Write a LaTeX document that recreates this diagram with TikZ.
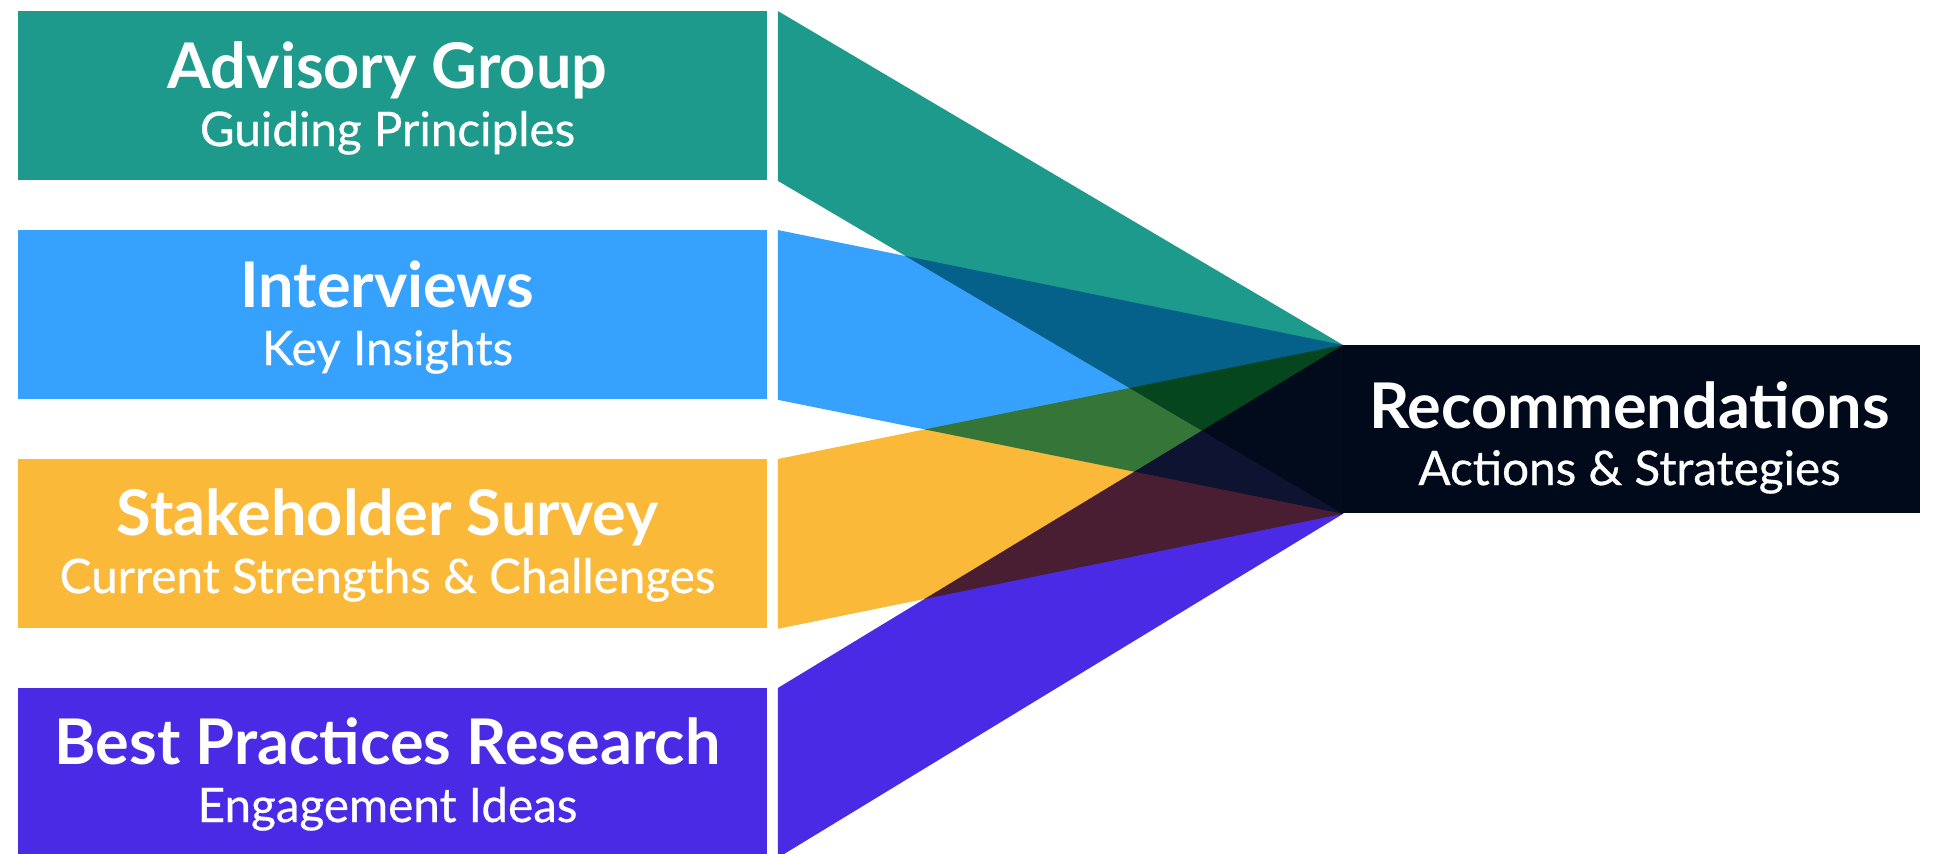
\documentclass[tikz,border=0pt]{standalone}
\usepackage{fontspec}
\setmainfont{Lato}
\newfontfamily\subfont{Lato}[FakeBold=0.6]
\definecolor{advteal}{RGB}{29,154,139}
\definecolor{intblue}{RGB}{54,162,254}
\definecolor{survyellow}{RGB}{251,185,57}
\definecolor{bestpurple}{RGB}{75,42,230}
\definecolor{recnavy}{RGB}{1,10,26}
\begin{document}
\begin{tikzpicture}[x=0.5pt,y=-0.5pt,
  srcbox/.style={fill=#1, inner sep=0pt, minimum width=374.5pt, minimum height=84.5pt, anchor=north west},
  ttl/.style={text=white, inner sep=0pt, anchor=base, font=\bfseries\fontsize{31.5}{36}\selectfont},
  sub/.style={text=white, inner sep=0pt, anchor=base, font=\subfont\fontsize{23.8}{28}\selectfont},
  funnel/.style={fill=#1, blend mode=multiply}]
\useasboundingbox (0,0) rectangle (1936,853);
\clip (0,0) rectangle (1936,853);

% source boxes
\node[srcbox=advteal] (adv) at (18,11) {};
\node[srcbox=intblue] (int) at (18,230) {};
\node[srcbox=survyellow] (surv) at (18,459) {};
\node[srcbox=bestpurple] (best) at (18,688) {};

% target box
\node[fill=recnavy, inner sep=0pt, minimum width=288.5pt, minimum height=84pt, anchor=north west] (rec) at (1343,345) {};

% funnels, multiplied where they cross
\fill[funnel=advteal] ([xshift=5pt]adv.north east) -- (rec.north west) -- (rec.south west) -- ([xshift=5pt]adv.south east) -- cycle;
\fill[funnel=intblue] ([xshift=5pt]int.north east) -- (rec.north west) -- (rec.south west) -- ([xshift=5pt]int.south east) -- cycle;
\fill[funnel=survyellow] ([xshift=5pt]surv.north east) -- (rec.north west) -- (rec.south west) -- ([xshift=5pt]surv.south east) -- cycle;
\fill[funnel=bestpurple] ([xshift=5pt]best.north east) -- (rec.north west) -- (rec.south west) -- ([xshift=5pt]best.south east) -- cycle;

% labels
\node[ttl] (adv-t) at ([xshift=-2.7pt,yshift=-38.5pt]adv.north) {Advisory Group};
\node[sub] (adv-s) at ([xshift=-2.7pt,yshift=-67.5pt]adv.north) {Guiding Principles};
\node[ttl] (int-t) at ([xshift=-2.7pt,yshift=-38.5pt]int.north) {Interviews};
\node[sub] (int-s) at ([xshift=-2.7pt,yshift=-67.5pt]int.north) {Key Insights};
\node[ttl] (surv-t) at ([xshift=-2.7pt,yshift=-38pt]surv.north) {Stakeholder Survey};
\node[sub] (surv-s) at ([xshift=-2.7pt,yshift=-67pt]surv.north) {Current Strengths \& Challenges};
\node[ttl] (best-t) at ([xshift=-2.7pt,yshift=-38pt]best.north) {Best Practices Research};
\node[sub] (best-s) at ([xshift=-2.7pt,yshift=-67pt]best.north) {Engagement Ideas};
\node[ttl] (rec-t) at ([xshift=-1.2pt,yshift=-41.5pt]rec.north) {Recommendations};
\node[sub] (rec-s) at ([xshift=-1.2pt,yshift=-70pt]rec.north) {Actions \& Strategies};
\end{tikzpicture}
\end{document}
